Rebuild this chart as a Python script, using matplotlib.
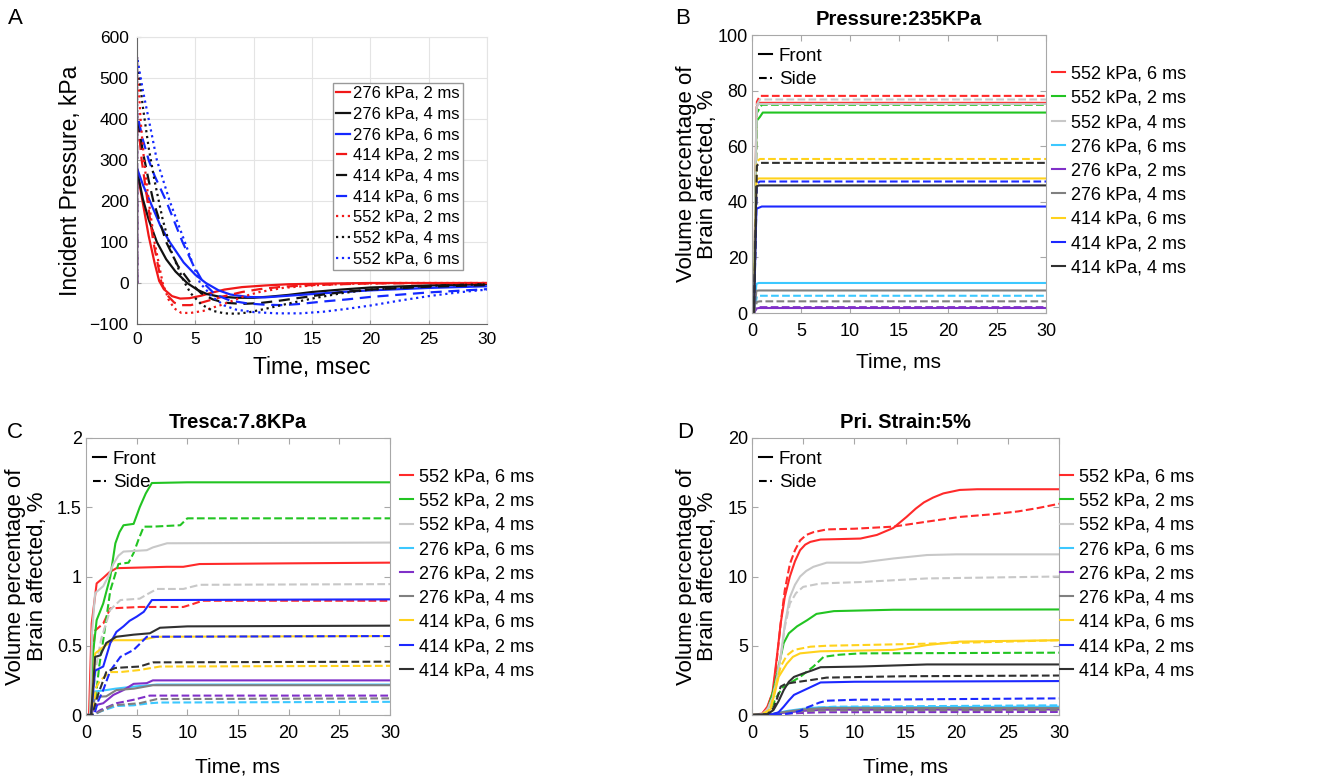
import numpy as np
import matplotlib.pyplot as plt
from matplotlib.lines import Line2D

REG = ['Liberation Sans', 'DejaVu Sans']
plt.rcParams['font.family'] = REG

# ---------------- panel A: incident pressure waves (t ms, kPa) ----------------
A_LABELS = ['276 kPa, 2 ms', '276 kPa, 4 ms', '276 kPa, 6 ms',
            '414 kPa, 2 ms', '414 kPa, 4 ms', '414 kPa, 6 ms',
            '552 kPa, 2 ms', '552 kPa, 4 ms', '552 kPa, 6 ms']
A_WAVES = {
    '276 kPa, 2 ms': [(0, 0), (0, 276), (0.5, 195), (1, 115), (1.5, 50), (1.9, 5), (2.3, -15), (3, -32),
                      (3.7, -38), (4.5, -37), (5.5, -31), (6.5, -23), (7.5, -16), (9, -10), (11, -6),
                      (13, -3), (17, -1), (20, 0), (30, 0)],
    '276 kPa, 4 ms': [(0, 0), (0, 276), (0.5, 205), (1, 155), (1.7, 100), (2.5, 58), (3.3, 28), (4.3, 0),
                      (5.2, -17), (6, -27), (7, -33), (8.5, -36), (10, -36), (11.5, -33), (13, -29),
                      (15, -22), (17.5, -16), (20, -11), (25, -6), (30, -3)],
    '276 kPa, 6 ms': [(0, 0), (0, 280), (0.5, 240), (1.1, 200), (2, 140), (2.8, 100), (4, 50), (5, 20),
                      (5.9, 0), (7, -18), (8, -28), (9.5, -34), (11, -35), (13, -31), (15, -27),
                      (17.5, -22), (20, -18), (25, -12), (30, -8)],
    '414 kPa, 2 ms': [(0, 0), (0, 414), (0.4, 300), (0.9, 200), (1.4, 100), (2.1, 0), (2.6, -30), (3.2, -48),
                      (3.8, -54), (4.6, -54), (5.5, -48), (6.5, -40), (7.5, -32), (9, -22), (10.5, -15),
                      (12.5, -9), (15, -5), (20, -1), (30, 0)],
    '414 kPa, 4 ms': [(0, 0), (0, 414), (0.5, 320), (1, 250), (1.4, 200), (2.5, 100), (3.5, 42), (4.6, 0),
                      (5.5, -25), (6.5, -40), (7.5, -48), (9, -51), (10.5, -49), (12, -44), (14, -36),
                      (16, -28), (18, -21), (20, -16), (25, -9), (30, -5)],
    '414 kPa, 6 ms': [(0, 0), (0, 414), (0.5, 350), (1, 300), (1.5, 262), (2.5, 200), (3.9, 100), (4.8, 45),
                      (5.7, 0), (6.7, -28), (8, -43), (9.5, -50), (11, -53), (12.5, -54), (14, -51),
                      (16, -45), (18, -40), (20, -34), (25, -23), (30, -15)],
    '552 kPa, 2 ms': [(0, 0), (0, 552), (0.3, 400), (0.6, 300), (1.0, 200), (1.5, 100), (2.2, 0), (2.7, -40),
                      (3.2, -62), (3.8, -73), (4.6, -73), (5.7, -68), (6.5, -60), (7.4, -52), (8.3, -42),
                      (9.1, -33), (10.5, -22), (12.5, -12), (15, -6), (18, -2), (22, 0), (30, 0)],
    '552 kPa, 4 ms': [(0, 0), (0, 552), (0.5, 430), (1, 330), (1.5, 250), (2.2, 155), (3, 72), (4, 5),
                      (4.6, -25), (5.5, -52), (6.5, -68), (7.5, -74), (8.5, -75), (9.5, -72), (11, -63),
                      (13, -50), (15, -38), (17.5, -25), (20, -16), (25, -7), (30, -3)],
    '552 kPa, 6 ms': [(0, 0), (0, 552), (0.5, 470), (1, 400), (1.7, 300), (2.8, 200), (4.1, 100), (4.8, 45),
                      (5.4, 0), (6.5, -35), (7.5, -55), (8.5, -65), (10, -71), (12, -74), (14, -74),
                      (16, -70), (18, -63), (20, -55), (22.5, -43), (25, -32), (27.5, -23), (30, -16)],
}

# ---------------- panels B-D: volume % of brain affected ----------------
LABELS = ['552 kPa, 6 ms', '552 kPa, 2 ms', '552 kPa, 4 ms',
          '276 kPa, 6 ms', '276 kPa, 2 ms', '276 kPa, 4 ms',
          '414 kPa, 6 ms', '414 kPa, 2 ms', '414 kPa, 4 ms']

B_FRONT = {
    '552 kPa, 6 ms': [(0, 0), (0.2, 0), (0.45, 74), (0.7, 75.6), (30, 75.6)],
    '552 kPa, 2 ms': [(0, 0), (0.2, 0), (0.45, 69), (0.8, 70.5), (1.1, 72.1), (30, 72.1)],
    '552 kPa, 4 ms': [(0, 0), (0.2, 0), (0.45, 74), (0.7, 75.2), (30, 75.2)],
    '276 kPa, 6 ms': [(0, 0), (0.2, 0), (0.45, 10.5), (0.7, 10.8), (30, 10.8)],
    '276 kPa, 2 ms': [(0, 0), (0.2, 0), (0.45, 1.6), (0.7, 1.8), (30, 1.8)],
    '276 kPa, 4 ms': [(0, 0), (0.2, 0), (0.45, 8), (0.7, 8.1), (30, 8.1)],
    '414 kPa, 6 ms': [(0, 0), (0.2, 0), (0.45, 48), (0.7, 48.4), (30, 48.4)],
    '414 kPa, 2 ms': [(0, 0), (0.2, 0), (0.45, 37.5), (1.0, 38.3), (30, 38.3)],
    '414 kPa, 4 ms': [(0, 0), (0.2, 0), (0.45, 45.5), (0.7, 45.9), (30, 45.9)],
}
B_SIDE = {
    '552 kPa, 6 ms': [(0, 0), (0.2, 0), (0.5, 76), (0.8, 78.1), (30, 78.1)],
    '552 kPa, 2 ms': [(0, 0), (0.2, 0), (0.5, 72), (1.0, 74.9), (30, 74.9)],
    '552 kPa, 4 ms': [(0, 0), (0.2, 0), (0.5, 75), (0.8, 76.8), (30, 76.8)],
    '276 kPa, 6 ms': [(0, 0), (0.2, 0), (0.5, 6), (0.8, 6.2), (30, 6.2)],
    '276 kPa, 2 ms': [(0, 0), (0.2, 0), (0.5, 2), (0.8, 2.1), (30, 2.1)],
    '276 kPa, 4 ms': [(0, 0), (0.2, 0), (0.5, 4), (0.8, 4.2), (30, 4.2)],
    '414 kPa, 6 ms': [(0, 0), (0.2, 0), (0.5, 54.5), (0.8, 55.4), (30, 55.4)],
    '414 kPa, 2 ms': [(0, 0), (0.2, 0), (0.5, 46.5), (0.8, 47.3), (30, 47.3)],
    '414 kPa, 4 ms': [(0, 0), (0.2, 0), (0.5, 53), (0.8, 54.0), (30, 54.0)],
}

C_FRONT = {
    '552 kPa, 6 ms': [(0, 0), (0.3, 0), (0.56, 0.66), (1.05, 0.95), (1.7, 0.99), (2.3, 1.03), (3, 1.06),
                      (8, 1.07), (9.6, 1.07), (11.2, 1.09), (20, 1.095), (30, 1.1)],
    '552 kPa, 2 ms': [(0, 0), (0.4, 0), (0.7, 0.45), (1.05, 0.685), (1.7, 0.805), (2.4, 1.0), (2.9, 1.24),
                      (3.3, 1.32), (3.7, 1.37), (4.7, 1.38), (5.3, 1.5), (5.9, 1.6), (6.5, 1.675),
                      (10, 1.68), (30, 1.68)],
    '552 kPa, 4 ms': [(0, 0), (0.4, 0), (0.6, 0.6), (0.9, 0.88), (1.7, 0.93), (2.2, 1.0), (2.7, 1.09),
                      (3.2, 1.15), (3.7, 1.18), (6, 1.19), (6.6, 1.21), (8, 1.24), (30, 1.245)],
    '276 kPa, 6 ms': [(0, 0), (0.5, 0), (0.9, 0.17), (2, 0.18), (2.9, 0.19), (4.7, 0.205), (7, 0.22),
                      (30, 0.22)],
    '276 kPa, 2 ms': [(0, 0), (0.5, 0), (0.9, 0.07), (1.7, 0.085), (2.7, 0.145), (3.7, 0.18), (4.7, 0.225),
                      (6, 0.23), (6.6, 0.25), (30, 0.25)],
    '276 kPa, 4 ms': [(0, 0), (0.5, 0), (0.9, 0.13), (2, 0.135), (3, 0.18), (4.7, 0.19), (6.6, 0.215),
                      (30, 0.215)],
    '414 kPa, 6 ms': [(0, 0), (0.5, 0), (0.9, 0.445), (1.7, 0.49), (2.7, 0.54), (5.3, 0.54), (7, 0.565),
                      (30, 0.57)],
    '414 kPa, 2 ms': [(0, 0), (0.5, 0), (0.9, 0.32), (1.7, 0.35), (2.4, 0.52), (3, 0.6), (3.7, 0.64),
                      (4.3, 0.68), (5, 0.71), (5.7, 0.745), (6.5, 0.83), (30, 0.835)],
    '414 kPa, 4 ms': [(0, 0), (0.5, 0), (0.9, 0.42), (1.4, 0.43), (2, 0.52), (3, 0.565), (4.7, 0.58),
                      (6.3, 0.59), (7.3, 0.63), (10, 0.64), (30, 0.645)],
}
C_SIDE = {
    '552 kPa, 6 ms': [(0, 0), (0.4, 0), (0.6, 0.4), (0.9, 0.61), (1.7, 0.66), (2.4, 0.77), (5.3, 0.78),
                      (9.6, 0.78), (10.5, 0.8), (11.5, 0.825), (30, 0.825)],
    '552 kPa, 2 ms': [(0, 0), (0.6, 0), (1.0, 0.15), (1.3, 0.35), (1.7, 0.54), (2.4, 0.9), (3.2, 1.09),
                      (4.2, 1.1), (4.7, 1.17), (5.2, 1.27), (5.7, 1.36), (6.6, 1.36), (9.3, 1.37),
                      (10, 1.42), (30, 1.42)],
    '552 kPa, 4 ms': [(0, 0), (0.5, 0), (1, 0.35), (1.5, 0.55), (2.4, 0.76), (3.4, 0.83), (5.3, 0.84),
                      (6, 0.87), (7, 0.91), (9.6, 0.91), (11.2, 0.94), (30, 0.945)],
    '276 kPa, 6 ms': [(0, 0), (0.7, 0), (1.4, 0.025), (3, 0.065), (4.7, 0.07), (6.3, 0.085), (7.3, 0.09),
                      (30, 0.095)],
    '276 kPa, 2 ms': [(0, 0), (0.7, 0), (1.4, 0.035), (3, 0.085), (4.7, 0.11), (6.3, 0.14), (30, 0.14)],
    '276 kPa, 4 ms': [(0, 0), (0.7, 0), (1.4, 0.025), (2.7, 0.07), (5.3, 0.085), (7, 0.115), (30, 0.12)],
    '414 kPa, 6 ms': [(0, 0), (0.6, 0), (1.0, 0.2), (1.4, 0.25), (2.4, 0.31), (3.4, 0.31), (5.3, 0.325),
                      (7.3, 0.35), (30, 0.355)],
    '414 kPa, 2 ms': [(0, 0), (0.8, 0), (1.2, 0.1), (1.7, 0.18), (2.4, 0.32), (3.4, 0.42), (4.7, 0.47),
                      (5.4, 0.52), (6, 0.565), (30, 0.57)],
    '414 kPa, 4 ms': [(0, 0), (0.6, 0), (1.2, 0.15), (2, 0.31), (2.9, 0.34), (5.3, 0.35), (6.6, 0.38),
                      (30, 0.385)],
}

D_FRONT = {
    '552 kPa, 6 ms': [(0, 0), (1, 0.1), (1.5, 0.6), (2, 1.6), (2.4, 4), (2.8, 6.6), (3.2, 8.5), (3.7, 10),
                      (4.2, 11.1), (4.7, 11.9), (5.2, 12.3), (5.7, 12.5), (6.7, 12.67), (8.5, 12.7),
                      (10.6, 12.74), (12.2, 13), (13.8, 13.5), (15.1, 14.3), (16, 14.9), (16.8, 15.35),
                      (17.7, 15.7), (18.7, 16.0), (20.3, 16.25), (22, 16.3), (30, 16.3)],
    '552 kPa, 2 ms': [(0, 0), (1, 0.05), (1.5, 0.3), (2.1, 1.8), (2.6, 3.5), (3.1, 5.2), (3.6, 5.9),
                      (4.4, 6.4), (5.4, 6.85), (6.3, 7.3), (8, 7.5), (13.8, 7.6), (30, 7.62)],
    '552 kPa, 4 ms': [(0, 0), (1, 0.05), (1.5, 0.4), (2, 1.2), (2.4, 2.5), (2.8, 4.2), (3.2, 6.5),
                      (3.7, 8.5), (4.2, 9.4), (4.7, 10), (5.3, 10.4), (6, 10.7), (7.3, 11), (10.6, 11),
                      (13.8, 11.3), (17.1, 11.55), (20, 11.6), (30, 11.6)],
    '276 kPa, 6 ms': [(0, 0), (1.5, 0), (2.5, 0.15), (3.5, 0.3), (5, 0.45), (6.5, 0.55), (30, 0.6)],
    '276 kPa, 2 ms': [(0, 0), (1.5, 0), (3, 0.15), (5, 0.3), (7, 0.38), (30, 0.4)],
    '276 kPa, 4 ms': [(0, 0), (1.5, 0), (3, 0.2), (5, 0.4), (7, 0.5), (30, 0.5)],
    '414 kPa, 6 ms': [(0, 0), (1, 0.05), (1.8, 0.4), (2.2, 1.5), (2.6, 2.75), (3.4, 3.7), (4, 4.2),
                      (4.7, 4.45), (6.7, 4.6), (10.6, 4.65), (13.8, 4.7), (15.5, 4.85), (17.1, 5.05),
                      (20.3, 5.3), (25, 5.35), (30, 5.4)],
    '414 kPa, 2 ms': [(0, 0), (2, 0.05), (2.6, 0.2), (3.1, 0.6), (3.6, 1.05), (4.1, 1.45), (5.4, 1.9),
                      (6.7, 2.35), (10, 2.4), (30, 2.45)],
    '414 kPa, 4 ms': [(0, 0), (1.5, 0.05), (2.1, 0.36), (2.6, 1), (3.1, 1.8), (3.6, 2.4), (4.1, 2.75),
                      (5, 3.0), (5.8, 3.2), (6.7, 3.45), (10.6, 3.5), (17.1, 3.65), (30, 3.65)],
}
D_SIDE = {
    '552 kPa, 6 ms': [(0, 0), (1, 0.1), (1.5, 0.5), (2.1, 1.8), (2.5, 4.5), (2.8, 6.6), (3.2, 9),
                      (3.7, 10.9), (4.2, 11.9), (4.7, 12.6), (5.3, 13), (6, 13.2), (7.3, 13.4), (10, 13.45),
                      (13.8, 13.6), (17, 13.95), (20.3, 14.3), (23.6, 14.5), (26, 14.7), (28, 14.95),
                      (30, 15.25)],
    '552 kPa, 2 ms': [(0, 0), (1, 0.05), (1.8, 0.4), (2.4, 1.3), (3, 2), (3.7, 2.3), (4.7, 2.75), (6, 3.5),
                      (7, 4.2), (8.5, 4.35), (10.6, 4.45), (30, 4.5)],
    '552 kPa, 4 ms': [(0, 0), (1, 0.05), (1.5, 0.4), (2, 1.2), (2.4, 2.5), (2.8, 4.2), (3.2, 6.3),
                      (3.7, 8.05), (4.3, 8.8), (5, 9.25), (6.7, 9.5), (10.6, 9.6), (17.1, 9.86), (30, 10)],
    '276 kPa, 6 ms': [(0, 0), (1.5, 0), (2.5, 0.1), (4, 0.3), (6, 0.5), (8, 0.6), (30, 0.7)],
    '276 kPa, 2 ms': [(0, 0), (1.5, 0), (3, 0.08), (5, 0.15), (7, 0.2), (30, 0.22)],
    '276 kPa, 4 ms': [(0, 0), (1.5, 0), (3, 0.15), (5, 0.28), (7, 0.33), (30, 0.35)],
    '414 kPa, 6 ms': [(0, 0), (1, 0.05), (1.8, 0.4), (2.3, 2), (2.8, 3.5), (3.4, 4.3), (4.1, 4.7),
                      (5.7, 4.93), (7.3, 5.0), (17.1, 5.15), (25, 5.3), (30, 5.4)],
    '414 kPa, 2 ms': [(0, 0), (3, 0.05), (3.9, 0.15), (4.7, 0.3), (5.4, 0.55), (6, 0.72), (6.6, 0.9),
                      (7.3, 1.03), (10, 1.1), (30, 1.2)],
    '414 kPa, 4 ms': [(0, 0), (1.5, 0.05), (2.1, 0.5), (2.5, 1.3), (2.8, 2.05), (3.3, 2.25), (4.1, 2.35),
                      (6, 2.55), (7.3, 2.7), (15, 2.8), (30, 2.85)],
}

# ---------------- styles ----------------
A_COLOR = {'2 ms': '#f01818', '4 ms': '#111111', '6 ms': '#1428ff'}
A_LS = {'276': '-', '414': (0, (5, 3)), '552': ':'}
COLORS = {'552 kPa, 6 ms': '#ff2a2a', '552 kPa, 2 ms': '#22c422', '552 kPa, 4 ms': '#c8c8c8',
          '276 kPa, 6 ms': '#3cc8ff', '276 kPa, 2 ms': '#8030c8', '276 kPa, 4 ms': '#808080',
          '414 kPa, 6 ms': '#ffd21c', '414 kPa, 2 ms': '#1c28ff', '414 kPa, 4 ms': '#303030'}
FRAME = '#a8a8a8'

fig = plt.figure(figsize=(13.44, 7.8), dpi=100)


def px_axes(l, t, r, b):
    return fig.add_axes([l / 1344, 1 - b / 780, (r - l) / 1344, (b - t) / 780])


# ---- A ----
axA = px_axes(137, 37, 487, 324)
for lab in A_LABELS:
    t, p = np.array(A_WAVES[lab]).T
    axA.plot(t, p, color=A_COLOR[lab.split(', ')[1]], ls=A_LS[lab[:3]], lw=1.6, label=lab)
axA.set_xlim(0, 30)
axA.set_ylim(-100, 600)
axA.set_xticks(range(0, 31, 5))
axA.set_yticks(range(-100, 601, 100))
axA.grid(color='#e4e4e4', lw=0.8)
axA.tick_params(labelsize=12.5, length=3, direction='in', color='#999999', pad=6)
for s in ['top', 'right']:
    axA.spines[s].set_color('#e4e4e4')
for s in ['left', 'bottom']:
    axA.spines[s].set_color('#666666')
axA.set_xlabel('Time, msec', fontsize=16.5, va='center')
axA.xaxis.set_label_coords(0.5, -0.153)
axA.set_ylabel('Incident Pressure, kPa', fontsize=16.5, va='center')
axA.yaxis.set_label_coords(-0.191, 0.5)
legA = axA.legend(loc='upper right', bbox_to_anchor=(0.931, 0.840), borderaxespad=0, fontsize=12,
                  handlelength=0.85, handletextpad=0.15, labelspacing=0.34, borderpad=0.2,
                  fancybox=False, edgecolor='#999999', framealpha=1)
legA.get_frame().set_linewidth(1.0)


def volume_panel(box, front, side, ylim, yticks, title, leg_x, fs_x):
    ax = px_axes(*box)
    for lab in LABELS:
        t, v = np.array(front[lab]).T
        ax.plot(t, v, color=COLORS[lab], lw=1.5)
        t, v = np.array(side[lab]).T
        ax.plot(t, v, color=COLORS[lab], lw=1.5, ls='--')
    ax.set_xlim(0, 30)
    ax.set_ylim(*ylim)
    ax.set_xticks(range(0, 31, 5))
    ax.set_yticks(yticks)
    ax.set_yticklabels([('%g' % y) for y in yticks])
    ax.tick_params(labelsize=13, direction='in', length=4, color=FRAME, top=True, right=True)
    ax.tick_params(axis='x', pad=7)
    ax.tick_params(axis='y', pad=3)
    for s in ax.spines.values():
        s.set_color(FRAME)
    ax.set_title(title, fontsize=14.5, fontweight='bold', pad=7)
    ax.set_xlabel('Time, ms', fontsize=15, va='center')
    ax.set_ylabel('Volume percentage of\nBrain affected, %', fontsize=16, va='center', linespacing=1.05)
    handles = [Line2D([], [], color=COLORS[lab], lw=1.5) for lab in LABELS]
    leg = ax.legend(handles, LABELS, loc='upper left', bbox_to_anchor=(leg_x, 0.89), borderaxespad=0,
                    borderpad=0, frameon=False, fontsize=13,
                    handlelength=0.7, handletextpad=0.35, labelspacing=0.40)
    ax.add_artist(leg)
    fs = [Line2D([], [], color='k', lw=1.5), Line2D([], [], color='k', lw=1.5, ls='--')]
    ax.legend(fs, ['Front', 'Side'], loc='upper left', bbox_to_anchor=(fs_x, 0.955), borderaxespad=0,
              borderpad=0, frameon=False, fontsize=13.5,
              handlelength=0.7, handletextpad=0.35, labelspacing=0.34)
    return ax


axB = volume_panel((752, 35, 1046, 313), B_FRONT, B_SIDE, (0, 100), [0, 20, 40, 60, 80, 100],
                   'Pressure:235KPa', 1.020, 0.024)
axB.xaxis.set_label_coords(0.5, -0.176)
axB.yaxis.set_label_coords(-0.187, 0.5)

axC = volume_panel((86, 438, 390, 715), C_FRONT, C_SIDE, (0, 2), [0, 0.5, 1, 1.5, 2],
                   'Tresca:7.8KPa', 1.033, 0.023)
axC.xaxis.set_label_coords(0.5, -0.188)
axC.yaxis.set_label_coords(-0.197, 0.5)

axD = volume_panel((752, 438, 1059, 715), D_FRONT, D_SIDE, (0, 20), [0, 5, 10, 15, 20],
                   'Pri. Strain:5%', 1.003, 0.023)
axD.xaxis.set_label_coords(0.5, -0.188)
axD.yaxis.set_label_coords(-0.179, 0.5)

for letter, x, y in [('A', 8, 18), ('B', 675, 18), ('C', 7, 432), ('D', 677, 432)]:
    fig.text(x / 1344, 1 - y / 780, letter, fontsize=16, va='center', ha='left')

fig.savefig('out.png', dpi=100)
